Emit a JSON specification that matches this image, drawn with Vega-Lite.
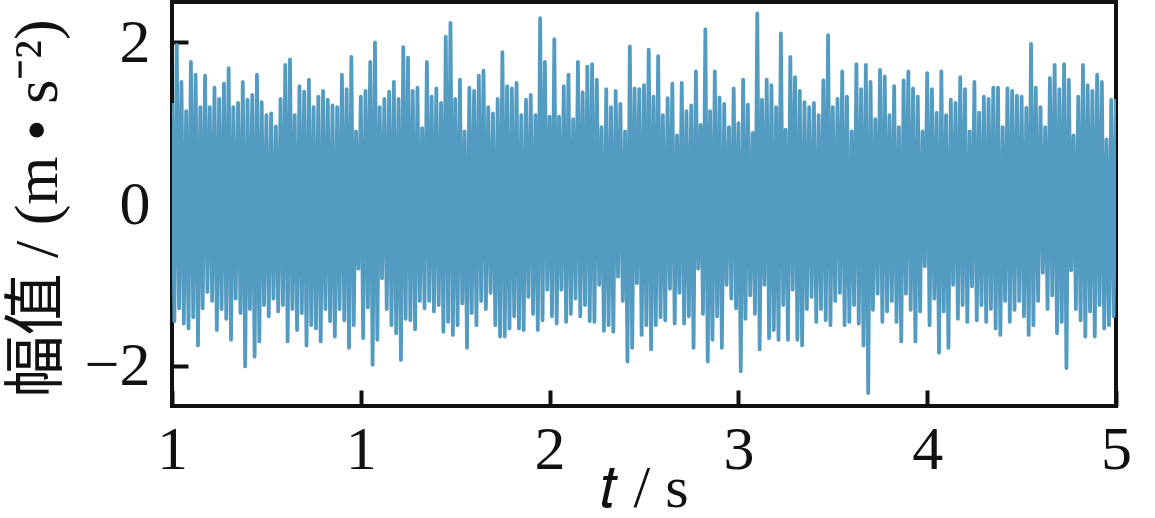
{
  "$schema": "https://vega.github.io/schema/vega-lite/v6.json",
  "width": 944,
  "height": 404,
  "autosize": {"type": "none"},
  "padding": {"left": 172, "top": 2, "right": 39, "bottom": 112},
  "background": "white",
  "config": {
    "view": {"stroke": "#111111", "strokeWidth": 4},
    "font": "Liberation Serif"
  },
  "data": {"values": [
{"i":0,"a":1.25},{"i":1,"a":-1.45},{"i":2,"a":1.97},{"i":3,"a":-1.29},{"i":4,"a":1.51},{"i":5,"a":-1.48},{"i":6,"a":1.15},{"i":7,"a":-1.54},{"i":8,"a":1.76},{"i":9,"a":-1.4},
{"i":10,"a":1.6},{"i":11,"a":-1.75},{"i":12,"a":1.2},{"i":13,"a":-1.29},{"i":14,"a":1.59},{"i":15,"a":-1.09},{"i":16,"a":1.2},{"i":17,"a":-1.2},{"i":18,"a":1.44},{"i":19,"a":-1.56},
{"i":20,"a":1.3},{"i":21,"a":-1.3},{"i":22,"a":1.49},{"i":23,"a":-1.42},{"i":24,"a":1.68},{"i":25,"a":-1.68},{"i":26,"a":1.2},{"i":27,"a":-1.17},{"i":28,"a":1.25},{"i":29,"a":-1.35},
{"i":30,"a":1.51},{"i":31,"a":-2.01},{"i":32,"a":1.29},{"i":33,"a":-1.3},{"i":34,"a":1.35},{"i":35,"a":-1.89},{"i":36,"a":1.6},{"i":37,"a":-1.7},{"i":38,"a":1.26},{"i":39,"a":-1.25},
{"i":40,"a":1.1},{"i":41,"a":-1.39},{"i":42,"a":1.12},{"i":43,"a":-1.17},{"i":44,"a":0.96},{"i":45,"a":-1.33},{"i":46,"a":1.3},{"i":47,"a":-1.25},{"i":48,"a":1.72},{"i":49,"a":-1.7},
{"i":50,"a":1.79},{"i":51,"a":-1.3},{"i":52,"a":1.1},{"i":53,"a":-1.56},{"i":54,"a":1.46},{"i":55,"a":-1.35},{"i":56,"a":1.39},{"i":57,"a":-1.75},{"i":58,"a":1.54},{"i":59,"a":-1.5},
{"i":60,"a":1.2},{"i":61,"a":-1.54},{"i":62,"a":1.33},{"i":63,"a":-1.7},{"i":64,"a":1.4},{"i":65,"a":-1.3},{"i":66,"a":1.29},{"i":67,"a":-1.45},{"i":68,"a":1.22},{"i":69,"a":-1.64},
{"i":70,"a":1.2},{"i":71,"a":-1.3},{"i":72,"a":1.6},{"i":73,"a":-1.44},{"i":74,"a":1.42},{"i":75,"a":-1.78},{"i":76,"a":1.82},{"i":77,"a":-1.5},{"i":78,"a":0.9},{"i":79,"a":-0.8},
{"i":80,"a":1.33},{"i":81,"a":-1.66},{"i":82,"a":1.4},{"i":83,"a":-1.28},{"i":84,"a":1.76},{"i":85,"a":-1.99},{"i":86,"a":2.0},{"i":87,"a":-1.68},{"i":88,"a":1.2},{"i":89,"a":-0.92},
{"i":90,"a":1.3},{"i":91,"a":-1.3},{"i":92,"a":1.39},{"i":93,"a":-1.5},{"i":94,"a":1.51},{"i":95,"a":-1.6},{"i":96,"a":1.3},{"i":97,"a":-1.93},{"i":98,"a":1.94},{"i":99,"a":-1.42},
{"i":100,"a":1.81},{"i":101,"a":-1.44},{"i":102,"a":1.4},{"i":103,"a":-1.55},{"i":104,"a":1.44},{"i":105,"a":-1.2},{"i":106,"a":0.94},{"i":107,"a":-1.29},{"i":108,"a":1.76},{"i":109,"a":-1.2},
{"i":110,"a":1.33},{"i":111,"a":-1.33},{"i":112,"a":1.43},{"i":113,"a":-1.25},{"i":114,"a":1.25},{"i":115,"a":-1.58},{"i":116,"a":2.07},{"i":117,"a":-1.46},{"i":118,"a":2.24},{"i":119,"a":-1.62},
{"i":120,"a":1.3},{"i":121,"a":-1.5},{"i":122,"a":1.54},{"i":123,"a":-1.23},{"i":124,"a":0.9},{"i":125,"a":-1.78},{"i":126,"a":1.44},{"i":127,"a":-1.35},{"i":128,"a":1.4},{"i":129,"a":-1.5},
{"i":130,"a":1.59},{"i":131,"a":-1.2},{"i":132,"a":1.65},{"i":133,"a":-1.3},{"i":134,"a":1.2},{"i":135,"a":-1.1},{"i":136,"a":1.12},{"i":137,"a":-1.5},{"i":138,"a":1.3},{"i":139,"a":-1.64},
{"i":140,"a":1.88},{"i":141,"a":-1.64},{"i":142,"a":1.46},{"i":143,"a":-1.54},{"i":144,"a":1.43},{"i":145,"a":-1.39},{"i":146,"a":1.5},{"i":147,"a":-1.54},{"i":148,"a":1.1},{"i":149,"a":-1.56},
{"i":150,"a":1.29},{"i":151,"a":-1.15},{"i":152,"a":1.35},{"i":153,"a":-1.36},{"i":154,"a":1.1},{"i":155,"a":-1.56},{"i":156,"a":2.3},{"i":157,"a":-1.44},{"i":158,"a":1.76},{"i":159,"a":-1.06},
{"i":160,"a":1.08},{"i":161,"a":-1.39},{"i":162,"a":2.04},{"i":163,"a":-1.48},{"i":164,"a":1.08},{"i":165,"a":-1.06},{"i":166,"a":1.46},{"i":167,"a":-1.46},{"i":168,"a":1.6},{"i":169,"a":-1.36},
{"i":170,"a":1.05},{"i":171,"a":-1.17},{"i":172,"a":1.76},{"i":173,"a":-1.39},{"i":174,"a":1.38},{"i":175,"a":-1.25},{"i":176,"a":1.7},{"i":177,"a":-1.45},{"i":178,"a":1.73},{"i":179,"a":-1.46},
{"i":180,"a":1.54},{"i":181,"a":-1.0},{"i":182,"a":0.95},{"i":183,"a":-1.57},{"i":184,"a":1.42},{"i":185,"a":-1.5},{"i":186,"a":1.2},{"i":187,"a":-1.58},{"i":188,"a":1.4},{"i":189,"a":-0.9},
{"i":190,"a":1.24},{"i":191,"a":-1.2},{"i":192,"a":0.9},{"i":193,"a":-1.95},{"i":194,"a":1.95},{"i":195,"a":-1.78},{"i":196,"a":1.43},{"i":197,"a":-0.98},{"i":198,"a":1.42},{"i":199,"a":-1.62},
{"i":200,"a":1.47},{"i":201,"a":-1.5},{"i":202,"a":1.91},{"i":203,"a":-1.8},{"i":204,"a":1.33},{"i":205,"a":-1.5},{"i":206,"a":1.83},{"i":207,"a":-1.4},{"i":208,"a":1.1},{"i":209,"a":-1.44},
{"i":210,"a":1.31},{"i":211,"a":-1.05},{"i":212,"a":1.49},{"i":213,"a":-1.48},{"i":214,"a":0.85},{"i":215,"a":-1.1},{"i":216,"a":1.5},{"i":217,"a":-1.48},{"i":218,"a":1.15},{"i":219,"a":-1.39},
{"i":220,"a":1.22},{"i":221,"a":-1.78},{"i":222,"a":1.64},{"i":223,"a":-0.8},{"i":224,"a":0.98},{"i":225,"a":-1.36},{"i":226,"a":2.16},{"i":227,"a":-1.95},{"i":228,"a":1.15},{"i":229,"a":-1.68},
{"i":230,"a":1.64},{"i":231,"a":-1.39},{"i":232,"a":1.32},{"i":233,"a":-1.78},{"i":234,"a":1.24},{"i":235,"a":-1.0},{"i":236,"a":0.95},{"i":237,"a":-1.17},{"i":238,"a":1.43},{"i":239,"a":-1.29},
{"i":240,"a":1.0},{"i":241,"a":-2.07},{"i":242,"a":1.54},{"i":243,"a":-1.42},{"i":244,"a":1.23},{"i":245,"a":-1.13},{"i":246,"a":0.88},{"i":247,"a":-1.36},{"i":248,"a":2.36},{"i":249,"a":-1.8},
{"i":250,"a":1.29},{"i":251,"a":-1.0},{"i":252,"a":1.54},{"i":253,"a":-1.66},{"i":254,"a":1.47},{"i":255,"a":-1.56},{"i":256,"a":1.2},{"i":257,"a":-1.68},{"i":258,"a":2.11},{"i":259,"a":-1.25},
{"i":260,"a":0.92},{"i":261,"a":-1.68},{"i":262,"a":1.82},{"i":263,"a":-1.06},{"i":264,"a":1.57},{"i":265,"a":-1.68},{"i":266,"a":1.4},{"i":267,"a":-1.75},{"i":268,"a":1.26},{"i":269,"a":-1.3},
{"i":270,"a":1.2},{"i":271,"a":-1.15},{"i":272,"a":1.25},{"i":273,"a":-1.46},{"i":274,"a":1.1},{"i":275,"a":-1.3},{"i":276,"a":1.53},{"i":277,"a":-1.44},{"i":278,"a":2.09},{"i":279,"a":-1.5},
{"i":280,"a":1.2},{"i":281,"a":-1.2},{"i":282,"a":1.3},{"i":283,"a":-1.1},{"i":284,"a":1.64},{"i":285,"a":-1.5},{"i":286,"a":1.33},{"i":287,"a":-1.46},{"i":288,"a":0.9},{"i":289,"a":-1.25},
{"i":290,"a":1.73},{"i":291,"a":-1.48},{"i":292,"a":1.42},{"i":293,"a":-1.75},{"i":294,"a":1.72},{"i":295,"a":-2.34},{"i":296,"a":1.51},{"i":297,"a":-1.31},{"i":298,"a":1.05},{"i":299,"a":-1.11},
{"i":300,"a":1.66},{"i":301,"a":-1.46},{"i":302,"a":1.58},{"i":303,"a":-1.33},{"i":304,"a":1.1},{"i":305,"a":-1.2},{"i":306,"a":1.46},{"i":307,"a":-1.46},{"i":308,"a":0.95},{"i":309,"a":-1.7},
{"i":310,"a":1.53},{"i":311,"a":-1.11},{"i":312,"a":1.64},{"i":313,"a":-1.31},{"i":314,"a":1.43},{"i":315,"a":-1.7},{"i":316,"a":1.33},{"i":317,"a":-1.33},{"i":318,"a":0.9},{"i":319,"a":-0.77},
{"i":320,"a":1.62},{"i":321,"a":-1.5},{"i":322,"a":1.42},{"i":323,"a":-1.17},{"i":324,"a":1.13},{"i":325,"a":-1.84},{"i":326,"a":1.64},{"i":327,"a":-1.33},{"i":328,"a":1.1},{"i":329,"a":-1.78},
{"i":330,"a":1.29},{"i":331,"a":-1.0},{"i":332,"a":1.25},{"i":333,"a":-1.42},{"i":334,"a":1.57},{"i":335,"a":-1.25},{"i":336,"a":1.42},{"i":337,"a":-1.46},{"i":338,"a":0.9},{"i":339,"a":-1.02},
{"i":340,"a":1.51},{"i":341,"a":-1.44},{"i":342,"a":1.13},{"i":343,"a":-1.25},{"i":344,"a":1.33},{"i":345,"a":-1.46},{"i":346,"a":1.3},{"i":347,"a":-1.3},{"i":348,"a":1.44},{"i":349,"a":-1.54},
{"i":350,"a":1.44},{"i":351,"a":-1.62},{"i":352,"a":0.95},{"i":353,"a":-1.2},{"i":354,"a":1.43},{"i":355,"a":-1.46},{"i":356,"a":1.4},{"i":357,"a":-1.31},{"i":358,"a":1.34},{"i":359,"a":-1.2},
{"i":360,"a":1.33},{"i":361,"a":-1.39},{"i":362,"a":1.19},{"i":363,"a":-1.62},{"i":364,"a":1.98},{"i":365,"a":-1.5},{"i":366,"a":1.44},{"i":367,"a":-1.2},{"i":368,"a":1.2},{"i":369,"a":-0.85},
{"i":370,"a":0.95},{"i":371,"a":-1.3},{"i":372,"a":1.56},{"i":373,"a":-1.13},{"i":374,"a":1.72},{"i":375,"a":-1.6},{"i":376,"a":1.42},{"i":377,"a":-1.46},{"i":378,"a":1.73},{"i":379,"a":-2.03},
{"i":380,"a":1.54},{"i":381,"a":-0.82},{"i":382,"a":0.85},{"i":383,"a":-1.3},{"i":384,"a":1.33},{"i":385,"a":-1.44},{"i":386,"a":1.72},{"i":387,"a":-1.64},{"i":388,"a":1.47},{"i":389,"a":-1.33},
{"i":390,"a":1.4},{"i":391,"a":-1.64},{"i":392,"a":1.6},{"i":393,"a":-1.25},{"i":394,"a":1.51},{"i":395,"a":-1.54},{"i":396,"a":0.8},{"i":397,"a":-1.5},{"i":398,"a":1.29},{"i":399,"a":-1.39},
{"i":400,"a":1.3}
  ]},
  "mark": {"type": "line", "color": "#539BC0", "strokeWidth": 3.8, "clip": true, "strokeJoin": "round"},
  "encoding": {
    "x": {
      "field": "i", "type": "quantitative",
      "scale": {"domain": [0, 400], "nice": false, "zero": false},
      "axis": {
        "values": [0, 80, 160, 240, 320, 400],
        "labelExpr": "datum.value == 0 ? '1' : '' + (datum.value / 80)",
        "title": "𝑡 / s",
        "grid": false, "domain": false,
        "tickSize": -16, "tickWidth": 4, "tickColor": "#111111",
        "labelFont": "Liberation Serif", "labelFontSize": 62, "labelColor": "#111111",
        "labelPadding": 78, "labelBaseline": "alphabetic", "labelFlush": false, "labelOverlap": false,
        "titleFont": "Liberation Serif", "titleFontSize": 60, "titleFontWeight": "normal", "titleColor": "#111111",
        "titleY": 100, "titleBaseline": "alphabetic"
      }
    },
    "y": {
      "field": "a", "type": "quantitative",
      "scale": {"domain": [-2.5, 2.5], "nice": false, "zero": false},
      "axis": {
        "values": [-2, 0, 2],
        "title": "幅值 / (m • s⁻²)",
        "grid": false, "domain": false,
        "tickSize": -16, "tickWidth": 4, "tickColor": "#111111",
        "labelFont": "Liberation Serif", "labelFontSize": 62, "labelColor": "#111111",
        "labelPadding": 38, "labelFlush": false, "labelOverlap": false,
        "titleFont": "Liberation Serif, Noto Sans CJK SC", "titleFontSize": 62, "titleFontWeight": "normal", "titleColor": "#111111",
        "titleX": -116, "titleY": 206, "titleAngle": -90, "titleBaseline": "alphabetic", "titleAlign": "center"
      }
    }
  }
}
